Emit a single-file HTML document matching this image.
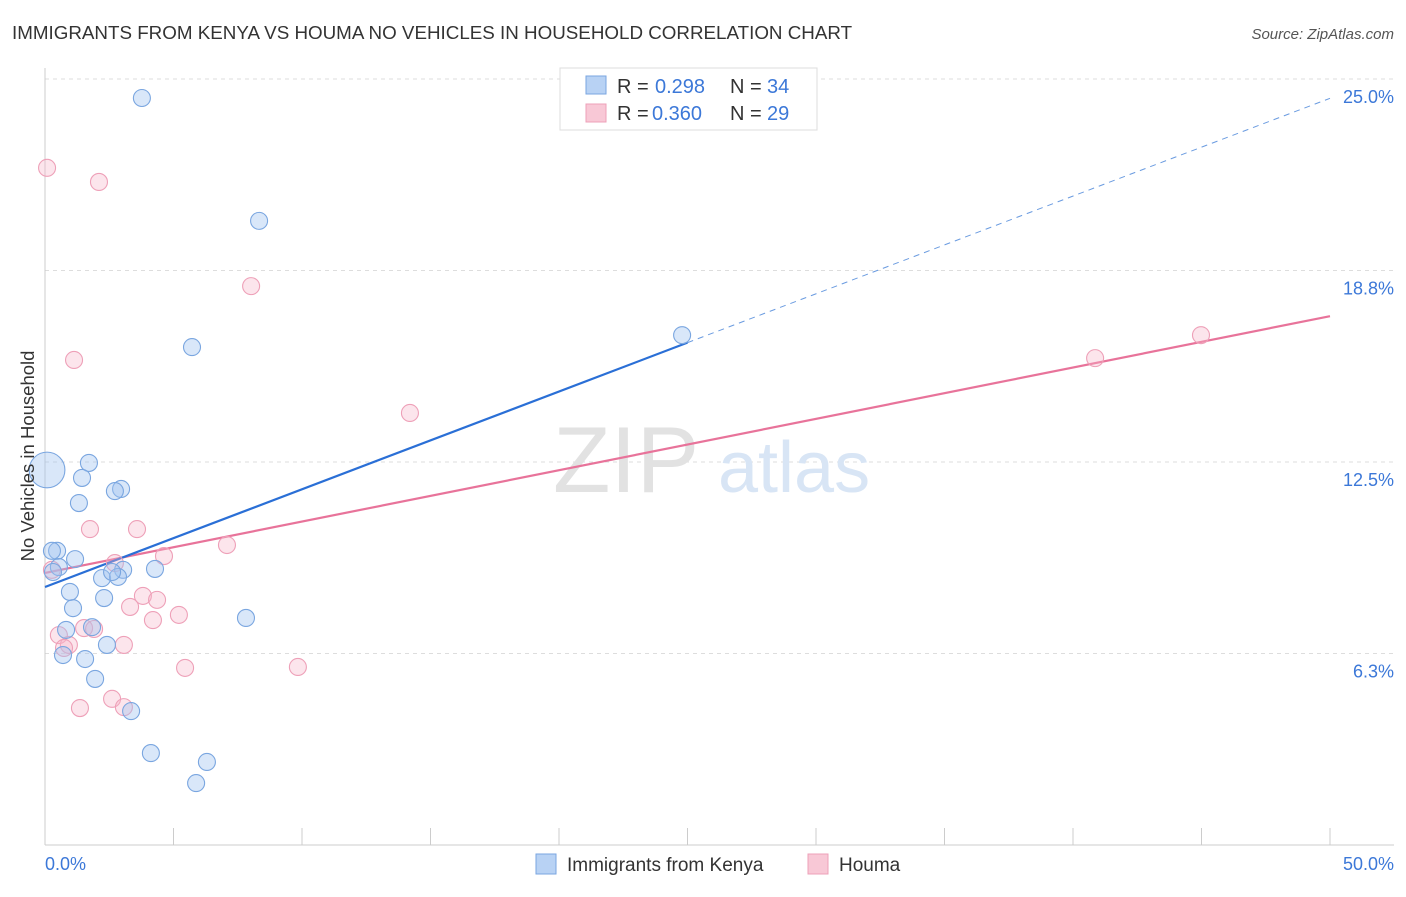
<!DOCTYPE html>
<html><head><meta charset="utf-8"><style>
body{margin:0;background:#fff;font-family:"Liberation Sans",sans-serif;}
svg text{font-family:"Liberation Sans",sans-serif;}
</style></head><body>
<svg id="chart" width="1406" height="892">
<text x="12" y="39" font-size="18.8" fill="#333">IMMIGRANTS FROM KENYA VS HOUMA NO VEHICLES IN HOUSEHOLD CORRELATION CHART</text>
<text x="1394" y="39" font-size="15" fill="#555" font-style="italic" text-anchor="end">Source: ZipAtlas.com</text>
<g id="grid"></g>
<text x="553" y="492" font-size="94" fill="#e2e2e2" font-family="Liberation Serif">ZIP</text>
<text x="718" y="492" font-size="72" fill="#d8e5f5">atlas</text>
<g id="lines"></g>
<g id="points"></g>
<text transform="translate(34,456) rotate(-90)" font-size="18.5" fill="#333" text-anchor="middle">No Vehicles in Household</text>
<text x="45" y="870" font-size="18" fill="#3c78d8">0.0%</text>
<text x="1394" y="870" font-size="18" fill="#3c78d8" text-anchor="end">50.0%</text>
<g>
<rect x="560" y="68" width="257" height="62" fill="#fff" stroke="#ddd"/>
<rect x="586" y="76" width="20" height="18" fill="#b8d2f4" stroke="#7aa6e0"/>
<text x="617" y="93" font-size="20" fill="#333">R =</text>
<text x="655" y="93" font-size="20" fill="#3c78d8">0.298</text>
<text x="730" y="93" font-size="20" fill="#333">N =</text>
<text x="767" y="93" font-size="20" fill="#3c78d8">34</text>
<rect x="586" y="104" width="20" height="18" fill="#f8c8d6" stroke="#eea0b8"/>
<text x="617" y="120" font-size="20" fill="#333">R =</text>
<text x="652" y="120" font-size="20" fill="#3c78d8">0.360</text>
<text x="730" y="120" font-size="20" fill="#333">N =</text>
<text x="767" y="120" font-size="20" fill="#3c78d8">29</text>
</g>
<g>
<rect x="536" y="854" width="20" height="20" fill="#b8d2f4" stroke="#7aa6e0"/>
<text x="567" y="871" font-size="19" fill="#333">Immigrants from Kenya</text>
<rect x="808" y="854" width="20" height="20" fill="#f8c8d6" stroke="#eea0b8"/>
<text x="839" y="871" font-size="19" fill="#333">Houma</text>
</g>
</svg>
<script>
const yTicks=[25,18.75,12.5,6.25];
const yTickLabels=["25.0%","18.8%","12.5%","6.3%"];
const xTicks=[0,5,10,15,20,25,30,35,40,45,50];
const kenyaX=[3.77,8.33,5.72,24.79,1.71,1.44,2.96,2.72,1.32,0.47,0.27,1.17,0.54,0.31,4.28,3.04,2.22,2.84,2.61,0.97,2.30,1.09,7.82,0.82,1.83,2.41,0.70,1.56,1.95,3.35,4.12,6.30,5.88,0.08];
const kenyaY=[24.38,20.37,16.25,16.64,12.47,11.98,11.62,11.55,11.16,9.60,9.60,9.33,9.07,8.91,9.01,8.98,8.71,8.75,8.91,8.26,8.06,7.73,7.41,7.02,7.11,6.53,6.20,6.07,5.42,4.37,3.00,2.71,2.02,12.24];
const kenyaSize=[1,1,1,1,1,1,1,1,1,1,1,1,1,1,1,1,1,1,1,1,1,1,1,1,1,1,1,1,1,1,1,1,1,2.1];
const houmaX=[0.08,2.10,8.02,1.13,14.20,40.86,44.98,1.75,3.58,7.08,4.63,2.72,0.27,3.81,4.36,3.31,5.21,4.20,1.52,1.91,0.54,0.93,0.74,3.07,5.45,9.84,2.61,3.07,1.36];
const houmaY=[22.10,21.64,18.24,15.83,14.10,15.89,16.64,10.31,10.31,9.79,9.43,9.20,8.98,8.13,8.00,7.77,7.51,7.34,7.08,7.05,6.85,6.53,6.43,6.53,5.78,5.81,4.77,4.50,4.47];
const kenyaLine=[8.42,24.37];
const kenyaSolidEnd=25;
const houmaLine=[8.88,17.26];

const NS="http://www.w3.org/2000/svg";
const X=v=>45+v*25.7, Y=v=>845-v*30.64;
function mk(t,a,parent){const e=document.createElementNS(NS,t);for(const k in a)e.setAttribute(k,a[k]);parent.appendChild(e);return e;}
const grid=document.getElementById('grid'),lines=document.getElementById('lines'),pts=document.getElementById('points');
yTicks.forEach((t,i)=>{
 const l=mk('line',{x1:45,x2:1394,y1:Y(t),y2:Y(t),stroke:'#ddd','stroke-dasharray':'4,4'},grid);
 
 
 const tx=mk('text',{x:1394,y:Y(t)+24,'font-size':18,fill:'#3c78d8','text-anchor':'end'},grid);
 tx.textContent=yTickLabels[i];
 
 
});
const ax=mk('line',{x1:45,x2:1394,y1:845,y2:845,stroke:'#ccc'},grid);


const ay=mk('line',{x1:45,x2:45,y1:68,y2:845,stroke:'#ccc'},grid);


xTicks.forEach(t=>{
 const l=mk('line',{x1:X(t),x2:X(t),y1:828,y2:845,stroke:'#ccc'},grid);
 
 
});
function drawPts(xs,ys,sz,fill,stroke,name){
 xs.forEach((x,i)=>{
  const c=mk('circle',{cx:X(x),cy:Y(ys[i]),r:8.5*(sz?sz[i]:1),fill:fill,stroke:stroke,'stroke-width':1.1},pts);
  
  
 });
}
drawPts(houmaX,houmaY,null,'rgba(246,180,200,0.35)','#eea0b8','houma-point');
drawPts(kenyaX,kenyaY,kenyaSize,'rgba(160,196,240,0.4)','#7aa6e0','kenya-point');
const kAt=x=>kenyaLine[0]+(kenyaLine[1]-kenyaLine[0])*x/50;
const hl=mk('line',{x1:X(0),y1:Y(houmaLine[0]),x2:X(50),y2:Y(houmaLine[1]),stroke:'#e8739a','stroke-width':2.2},lines);


const kl=mk('line',{x1:X(0),y1:Y(kAt(0)),x2:X(kenyaSolidEnd),y2:Y(kAt(kenyaSolidEnd)),stroke:'#2a6fd6','stroke-width':2.2},lines);


const kd=mk('line',{x1:X(kenyaSolidEnd),y1:Y(kAt(kenyaSolidEnd)),x2:X(50),y2:Y(kAt(50)),stroke:'#6a9be0','stroke-width':1,'stroke-dasharray':'6,5'},lines);


</script>
</body></html>
